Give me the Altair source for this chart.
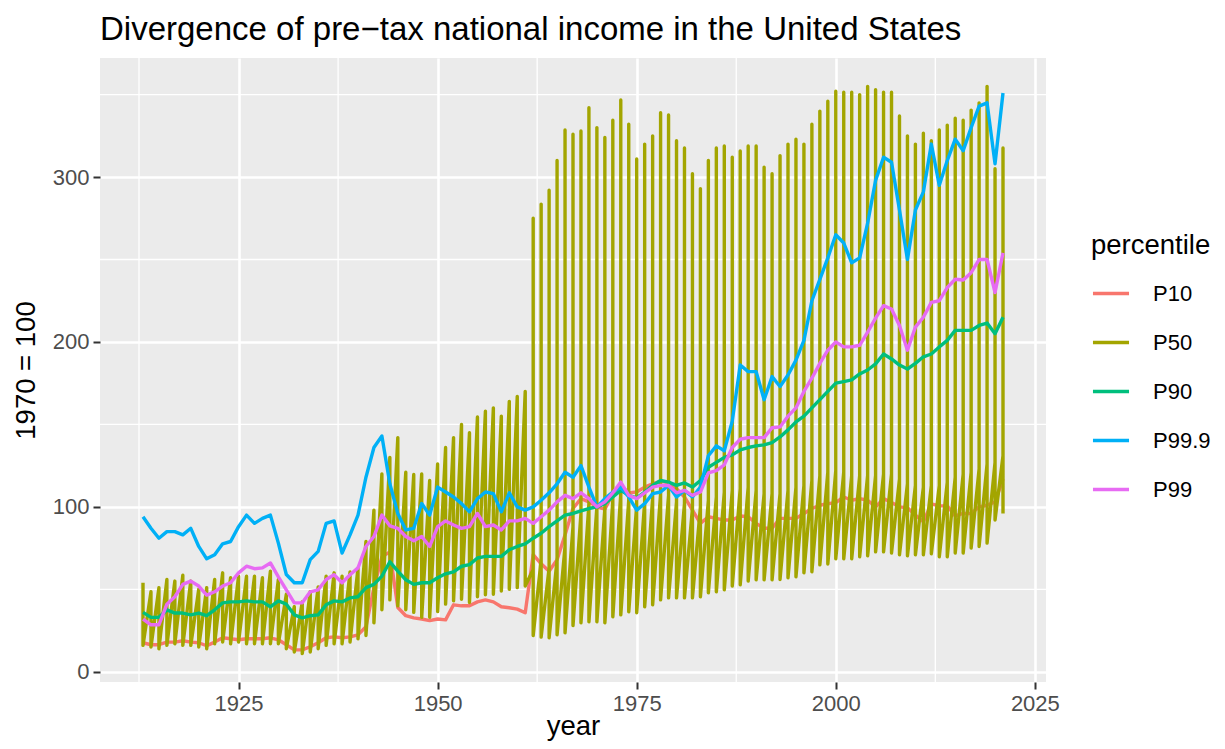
import altair as alt
import pandas as pd

# ---------------- data ----------------
years = list(range(1913, 2022))

p10 = [17.6, 16.4, 16.4, 18, 18, 18.8, 18, 17.6, 15.8, 18, 20.6, 20, 19.4, 20, 20, 20, 20.6, 19.4,
       16.4, 13.3, 13.3, 15.2, 17.6, 20.6, 21.2, 20.6, 21.2, 22.4, 27.3, 51, 69.7, 72.7, 39,
       34, 32.7, 32, 31, 32, 31.5, 40.6, 40, 40, 42.4, 43.6, 42.4, 39.4, 38.8, 38, 35.8,
       71, 65.5, 61, 68, 83, 99, 105, 103, 100,
       98.6, 108, 113, 108.5, 109, 112, 114, 115.6, 114.5, 111, 106, 98, 90, 94, 93,
       92, 92, 94.5, 94, 90, 87, 87, 93, 93, 93, 96, 99, 101, 102, 102.5, 106, 104, 105, 104, 100,
       105, 102.6, 100, 99.4, 95, 91, 101.8, 100.6, 100.6, 94.5, 96, 96, 100, 101, 103, 117]

p90 = [36, 33, 33, 37.5, 35.6, 35.6, 34.5, 35.6, 34, 37.6, 41.8, 42.4, 42.4, 43, 42.4, 42.4, 39.4, 43,
       41, 34.5, 32.7, 34, 34.5, 40.6, 43, 42.4, 44.8, 45.5, 51, 53, 58, 66.7, 61,
       55.8, 53, 54, 54, 57, 59.4, 60.6, 64, 65, 69, 70, 70, 70, 74, 76, 77.6,
       81, 84, 88, 91.5, 95, 96, 97.6, 99, 100,
       102, 106, 110, 107, 105.5, 109, 113, 116, 115, 113, 114.5, 112, 116, 124, 127,
       130, 131.5, 134.5, 136, 137, 137.6, 139, 142.4, 146.7, 151.5, 155, 160, 165, 170, 175, 176,
       177, 180.6, 183, 186.7, 192.7, 189.7, 186, 183.6,
       187, 191, 192.7, 197, 201, 207, 207, 207, 210, 211.5, 205, 215]

p99 = [32, 28.5, 28.5, 41, 45.5, 53, 55, 52, 46.5, 48.5, 52, 54, 60, 64, 62.5, 63, 66, 57.6,
       49.7, 41.8, 41.8, 48.5, 49.7, 56, 58.8, 54, 58.8, 63, 76, 82, 95, 88.5, 87,
       82, 79.4, 82, 76, 88, 91.5, 89, 87, 88, 96, 88, 89, 86, 91.5, 91.5, 93,
       90, 94, 98, 103, 107, 105, 108.5, 105, 100,
       103, 108.5, 115, 107, 105, 108.5, 112, 113, 113, 108.5, 110, 107, 109, 120.6, 122,
       125.5, 136, 141, 142, 142, 142, 148, 148.5, 155, 160,
       170, 178, 187, 195, 200, 197, 197, 198, 206, 214.5, 222, 220, 210, 195, 209, 215, 224, 225,
       233, 238, 237.6, 242, 250, 250, 230, 254]

p999 = [94, 87, 81, 85, 85, 83, 87, 76, 68.5, 71, 77.6, 79, 88, 95, 90, 93, 95, 78, 59, 54, 54,
        68, 73, 90, 91.5, 72, 83, 95, 118, 136, 143, 114, 96,
        86, 87, 102, 95, 112, 109, 106, 102, 97, 105, 109, 108, 97, 108.5, 100, 98,
        100, 104, 108.5, 114, 121, 118, 125, 112, 100,
        105, 109, 112, 106, 98, 102, 108, 109, 113, 106, 110, 106, 112, 131, 137, 134, 152,
        186, 182, 182, 165, 179, 173, 180, 189, 201, 225, 238, 251, 265, 260, 248, 251, 272, 298,
        312, 309, 280, 250, 280, 291, 320, 295, 310, 323, 316, 330, 343, 345, 308, 351]

# P50 carries several values per year (drawn in data order, as in the source)
p50_years_early = list(range(1913, 1962))
p50_high_early = [54, 48.6, 51, 56, 55, 58.5, 55, 50, 51, 56, 60, 57, 58, 58, 58, 57, 61, 56, 47,
                  39.5, 42.4, 48.5, 51.5, 58, 60, 58, 60.6, 63, 79, 98, 120, 130, 142,
                  121, 119.6, 120, 116, 126, 136, 142, 150, 145, 154.5, 158, 160, 155, 164, 167, 170]
p50_low_early = [16, 15, 14, 16, 17, 16, 16, 15, 14, 17, 18, 17, 18, 17, 17, 17, 17, 17, 14, 12,
                 11, 12, 14, 16, 17, 17, 18, 20, 22, 29.7, 37.6, 43.6, 40,
                 37.6, 36, 33, 33, 36.5, 41, 43, 44, 42, 45.5, 46.7, 47, 49, 50, 51, 52]

p50_years_late = list(range(1962, 2022))
p50_mid_late = [62, 68, 63, 68, 76, 88, 96, 102, 100, 99, 104, 108, 104, 101, 103, 105, 108, 107,
                103, 102, 99, 100, 104, 106, 109, 110, 111, 112, 110, 108, 108, 108, 110, 112,
                113, 116, 119, 121, 122, 121, 119, 119, 119, 119, 120, 120, 117, 114, 113, 112,
                113, 113, 115, 118, 120, 121, 123, 126, 127, 131]
p50_high_late = [275, 283.6, 292, 310, 328.5, 326, 328, 342, 330, 324, 334.5, 346.7, 332, 311, 320,
                 325, 339, 337.6, 322, 317.6, 302, 293, 310, 317.6,
                 318.8, 312, 315.8, 318.8, 318.8, 306, 302, 313, 320, 323, 320, 332, 340, 346, 352,
                 351.5, 351.5, 350, 355, 353, 351.5, 351.5, 337, 325, 320, 326.6, 322, 328.5, 331.5,
                 335.7, 334.5, 340.6, 345, 355, 305, 317.6]
p50_low_late = [22, 21, 20.6, 22.4, 23.6, 28, 29.7, 30.3, 30.3, 29.7, 33.3, 34.5, 36.4, 35.8, 39.4,
                40.6, 43.6, 44.8, 44.8, 44.8, 44.8, 45.5, 47.9, 48.5,
                49.7, 52, 52.7, 55, 55.8, 55.8, 55.8, 56, 57, 57.6, 60, 60.6, 64.8, 65.4, 68.5, 68.5,
                68.5, 69.7, 70.3, 72.7, 72.7, 72, 70.9, 70.3, 70.9, 70.9, 71.5, 69.7, 69.7, 72, 72,
                75, 76, 78, 92, 96]

percentiles = ["P10", "P50", "P90", "P99.9", "P99"]
colors = ["#F8766D", "#A3A500", "#00BF7D", "#00B0F6", "#E76BF3"]

x_major = [1925, 1950, 1975, 2000, 2025]
x_minor = [1912.5, 1937.5, 1962.5, 1987.5, 2012.5]
y_major = [0, 100, 200, 300]
y_minor = [50, 150, 250, 350]

# ---------------- build table ----------------
rows = []
k = 0
def add(year, val, p):
    global k
    rows.append({"year": year, "value": val, "percentile": p, "ord": k})
    k += 1

for y, v in zip(years, p10):
    add(y, v, "P10")
for y, h, l in zip(p50_years_early, p50_high_early, p50_low_early):
    add(y, h, "P50")
    add(y, l, "P50")
for y, m, h, l in zip(p50_years_late, p50_mid_late, p50_high_late, p50_low_late):
    add(y, m, "P50")
    add(y, h, "P50")
    add(y, l, "P50")
for y, v in zip(years, p90):
    add(y, v, "P90")
for y, v in zip(years, p999):
    add(y, v, "P99.9")
for y, v in zip(years, p99):
    add(y, v, "P99")

df = pd.DataFrame(rows)

# ggplot-style 5% expansion of the data range
xlo, xhi = df["year"].min(), df["year"].max()
ylo, yhi = df["value"].min(), df["value"].max()
xpad = 0.05 * (xhi - xlo)
ypad = 0.05 * (yhi - ylo)
xdom = [xlo - xpad, xhi + xpad]
ydom = [ylo - ypad, yhi + ypad]

FONT = "Liberation Sans"

xscale = alt.Scale(domain=xdom, nice=False, zero=False)
yscale = alt.Scale(domain=ydom, nice=False, zero=False)

color = alt.Color("percentile:N",
                  scale=alt.Scale(domain=percentiles, range=colors),
                  sort=percentiles,
                  legend=alt.Legend(title="percentile", orient="none", legendX=991, legendY=174,
                                    symbolType="stroke", symbolSize=1300, symbolStrokeWidth=3.4,
                                    labelFontSize=22, titleFontSize=27.5, labelFont=FONT,
                                    titleFont=FONT, titleFontWeight="normal", titleColor="black",
                                    labelColor="black", rowPadding=18, labelOffset=22,
                                    titlePadding=14))

xgrid_minor = alt.Chart(pd.DataFrame({"x": x_minor})).mark_rule(
    color="white", strokeWidth=1.3).encode(x=alt.X("x:Q", scale=xscale))
ygrid_minor = alt.Chart(pd.DataFrame({"y": y_minor})).mark_rule(
    color="white", strokeWidth=1.3).encode(y=alt.Y("y:Q", scale=yscale))

xaxis = alt.Axis(values=x_major, format="d", title="year", grid=True, gridColor="white",
                 gridWidth=2.6, domain=False, tickColor="#333333", tickSize=7, tickWidth=2,
                 labelFontSize=22, labelColor="#4D4D4D", labelFont=FONT, labelPadding=4,
                 titleFontSize=27.5, titleFont=FONT, titleFontWeight="normal",
                 titleColor="black", titleBaseline="alphabetic", titleY=52)
yaxis = alt.Axis(values=y_major, format="d", title="1970 = 100", grid=True, gridColor="white",
                 gridWidth=2.6, domain=False, tickColor="#333333", tickSize=7, tickWidth=2,
                 labelFontSize=22, labelColor="#4D4D4D", labelFont=FONT, labelPadding=4,
                 titleFontSize=27.5, titleFont=FONT, titleFontWeight="normal",
                 titleColor="black", titlePadding=12)

layers = [xgrid_minor, ygrid_minor]
for p in percentiles:
    layers.append(
        alt.Chart(df).transform_filter(alt.datum.percentile == p).mark_line(
            strokeWidth=3.4, strokeJoin="round", strokeCap="butt").encode(
            x=alt.X("year:Q", scale=xscale, axis=xaxis),
            y=alt.Y("value:Q", scale=yscale, axis=yaxis),
            color=color,
            order=alt.Order("ord:Q"),
        )
    )

chart = alt.layer(*layers).properties(
    width=946, height=624,
    padding={"left": 92, "top": 50, "right": 171, "bottom": 59},
    autosize="none",
    title=alt.TitleParams("Divergence of pre\u2212tax national income in the United States",
                          anchor="start", frame="group", fontSize=33, font=FONT,
                          fontWeight="normal", color="black", offset=10),
).configure(font=FONT).configure_view(fill="#EBEBEB", strokeWidth=0)

chart.save("out.html", embed_options={"renderer": "svg", "actions": False})
